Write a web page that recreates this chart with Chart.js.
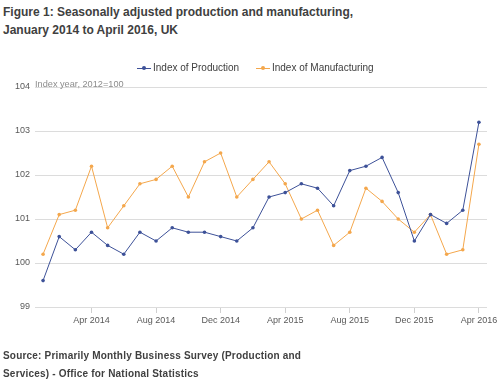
<!DOCTYPE html>
<html>
<head>
<meta charset="utf-8">
<script src="https://cdn.jsdelivr.net/npm/chart.js@4.4.1/dist/chart.umd.min.js"></script>
<style>
  body { margin: 0; background: #fff; width: 500px; height: 384px; position: relative; overflow: hidden; font-family: "Liberation Sans", Arial, sans-serif; }
  #titulo { position: absolute; left: 3px; top: 3px; font-weight: bold; font-size: 12px; line-height: 18px; color: #404040; }
  #fonte { position: absolute; left: 3px; top: 347px; font-weight: bold; font-size: 10px; line-height: 18px; color: #404040; letter-spacing: 0.2px; }
  #legenda { position: absolute; top: 62px; left: 137px; font-size: 10px; color: #404040; white-space: nowrap; }
  .item { display: inline-block; margin-right: 14px; }
  .marca { display: inline-block; position: relative; width: 14px; height: 1px; vertical-align: middle; margin-right: 2px; }
  .marca::after { content: ""; position: absolute; left: 5px; top: -2px; width: 4px; height: 4px; border-radius: 2px; background: inherit; }
  #unidade { position: absolute; left: 35px; top: 79px; font-size: 9.2px; color: #8c8c8c; }
  #grafico { position: absolute; left: 0; top: 0; }
</style>
</head>
<body>
<div id="titulo">Figure 1: Seasonally adjusted production and manufacturing,<br>January 2014 to April 2016, UK</div>
<canvas id="grafico" width="500" height="384"></canvas>
<div id="legenda">
  <span class="item"><span class="marca" style="background:#3d5198"></span>Index of Production</span>
  <span class="item"><span class="marca" style="background:#f4a74c"></span>Index of Manufacturing</span>
</div>
<div id="unidade">Index year, 2012=100</div>
<div id="fonte">Source: Primarily Monthly Business Survey (Production and<br>Services) - Office for National Statistics</div>
<script>
const meses = ['Jan 2014', 'Feb 2014', 'Mar 2014', 'Apr 2014', 'May 2014', 'Jun 2014', 'Jul 2014', 'Aug 2014',
  'Sep 2014', 'Oct 2014', 'Nov 2014', 'Dec 2014', 'Jan 2015', 'Feb 2015', 'Mar 2015', 'Apr 2015',
  'May 2015', 'Jun 2015', 'Jul 2015', 'Aug 2015', 'Sep 2015', 'Oct 2015', 'Nov 2015', 'Dec 2015',
  'Jan 2016', 'Feb 2016', 'Mar 2016', 'Apr 2016'];
const producao = [99.6, 100.6, 100.3, 100.7, 100.4, 100.2, 100.7, 100.5, 100.8, 100.7, 100.7, 100.6,
  100.5, 100.8, 101.5, 101.6, 101.8, 101.7, 101.3, 102.1, 102.2, 102.4, 101.6, 100.5,
  101.1, 100.9, 101.2, 103.2];
const manufatura = [100.2, 101.1, 101.2, 102.2, 100.8, 101.3, 101.8, 101.9, 102.2, 101.5, 102.3, 102.5,
  101.5, 101.9, 102.3, 101.8, 101.0, 101.2, 100.4, 100.7, 101.7, 101.4, 101.0, 100.7,
  101.1, 100.2, 100.3, 102.7];
const ticksY = [99, 100, 101, 102, 103, 104];

const corProd = '#3d5198';
const corManu = '#f4a74c';

const ctx = document.getElementById('grafico');

new Chart(ctx, {
  type: 'line',
  data: {
    labels: meses,
    datasets: [{
      label: 'Index of Production',
      data: producao,
      borderColor: corProd,
      backgroundColor: corProd,
      borderWidth: 1,
      pointRadius: 1.8,
      pointBorderWidth: 0,
      tension: 0
    }, {
      label: 'Index of Manufacturing',
      data: manufatura,
      borderColor: corManu,
      backgroundColor: corManu,
      borderWidth: 1,
      pointRadius: 1.8,
      pointBorderWidth: 0,
      tension: 0
    }]
  },
  options: {
    responsive: false,
    animation: false,
    layout: { padding: { left: 0, right: 13, top: 87, bottom: 47 } },
    plugins: {
      legend: { display: false },
      tooltip: { enabled: false }
    },
    scales: {
      x: {
        offset: true,
        afterFit(s) { s.height = 30; },
        border: { display: false },
        grid: {
          offset: false,
          drawOnChartArea: false,
          tickLength: 6,
          color: c => (c.index % 4 === 3 ? '#d0d0d0' : 'rgba(0,0,0,0)')
        },
        ticks: {
          autoSkip: false,
          maxRotation: 0,
          padding: 2,
          color: '#595959',
          font: { family: 'Liberation Sans', size: 9 },
          callback: (v, i) => (i % 4 === 3 ? meses[i] : '')
        }
      },
      y: {
        min: 99,
        max: 104,
        afterFit(s) { s.width = 35; },
        afterBuildTicks(s) { s.ticks = ticksY.map(v => ({ value: v })); },
        border: { display: false },
        grid: { color: '#dcdcdc', drawTicks: false, lineWidth: 1 },
        ticks: {
          padding: 5,
          color: '#595959',
          font: { family: 'Liberation Sans', size: 9 }
        }
      }
    }
  }
});
</script>
</body>
</html>
